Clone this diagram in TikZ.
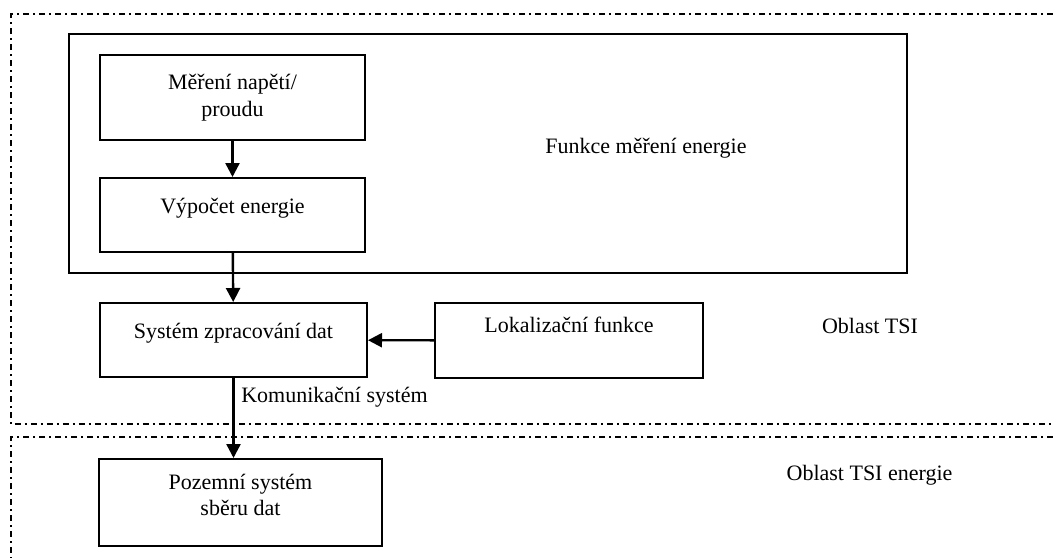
\documentclass[tikz,border=0pt]{standalone}
\usepackage{fontspec}
\setmainfont{Liberation Serif}
\usetikzlibrary{arrows.meta}

\begin{document}
\begin{tikzpicture}[x=1pt, y=-1pt,
	font=\fontsize{22}{26.5}\selectfont,
	blok/.style={draw, line width=2pt, inner sep=0pt, align=center},
	sipka/.style={-{Triangle[length=14pt,width=14pt]}, line width=2.4pt},
	oblast/.style={line width=1.4pt, dash pattern=on 6pt off 4pt on 2pt off 4pt}]
	\useasboundingbox (0,0) rectangle (1053,558);
	% Oblasti
	\draw[oblast] (1053,14) -- (11,14) -- (11,424) -- (1053,424);
	\draw[oblast] (1053,437) -- (11,437) -- (11,558);
	% Funkce mereni energie
	\node[blok, minimum width=838, minimum height=239] (funkce) at (488,153.5) {};
	\node[anchor=base] (funkcetxt) at (646,153) {Funkce měření energie};
	\node[blok, minimum width=265, minimum height=85] (mereni) at (232.5,97.5) {Měření napětí/\\proudu};
	\node[blok, minimum width=265, minimum height=74, text height=16pt, text depth=20pt] (vypocet) at (232.5,215) {Výpočet energie};
	% Zpracovani
	\node[blok, minimum width=267, minimum height=74, text height=16pt, text depth=20pt] (system) at (233.5,340) {Systém zpracování dat};
	\node[blok, minimum width=268, minimum height=75, text height=16pt, text depth=33pt] (lokal) at (569,340.5) {Lokalizační funkce};
	\node[anchor=base] (komunikace) at (334.5,402) {Komunikační systém};
	\node[anchor=base] (tsi) at (870,333) {Oblast TSI};
	% Pozemni cast
	\node[blok, minimum width=283, minimum height=87] (pozemni) at (240.5,502.5) {Pozemní systém\\sběru dat\rule[-15pt]{0pt}{15pt}};
	\node[anchor=base] (tsienergie) at (869.5,480) {Oblast TSI energie};
	% Sipky
	\draw[sipka] (mereni) -- (vypocet);
	\draw[sipka] (vypocet) -- (system);
	\draw[sipka] (lokal) -- (system);
	\draw[sipka] (system.south) -- (system.south |- pozemni.north);
\end{tikzpicture}
\end{document}
